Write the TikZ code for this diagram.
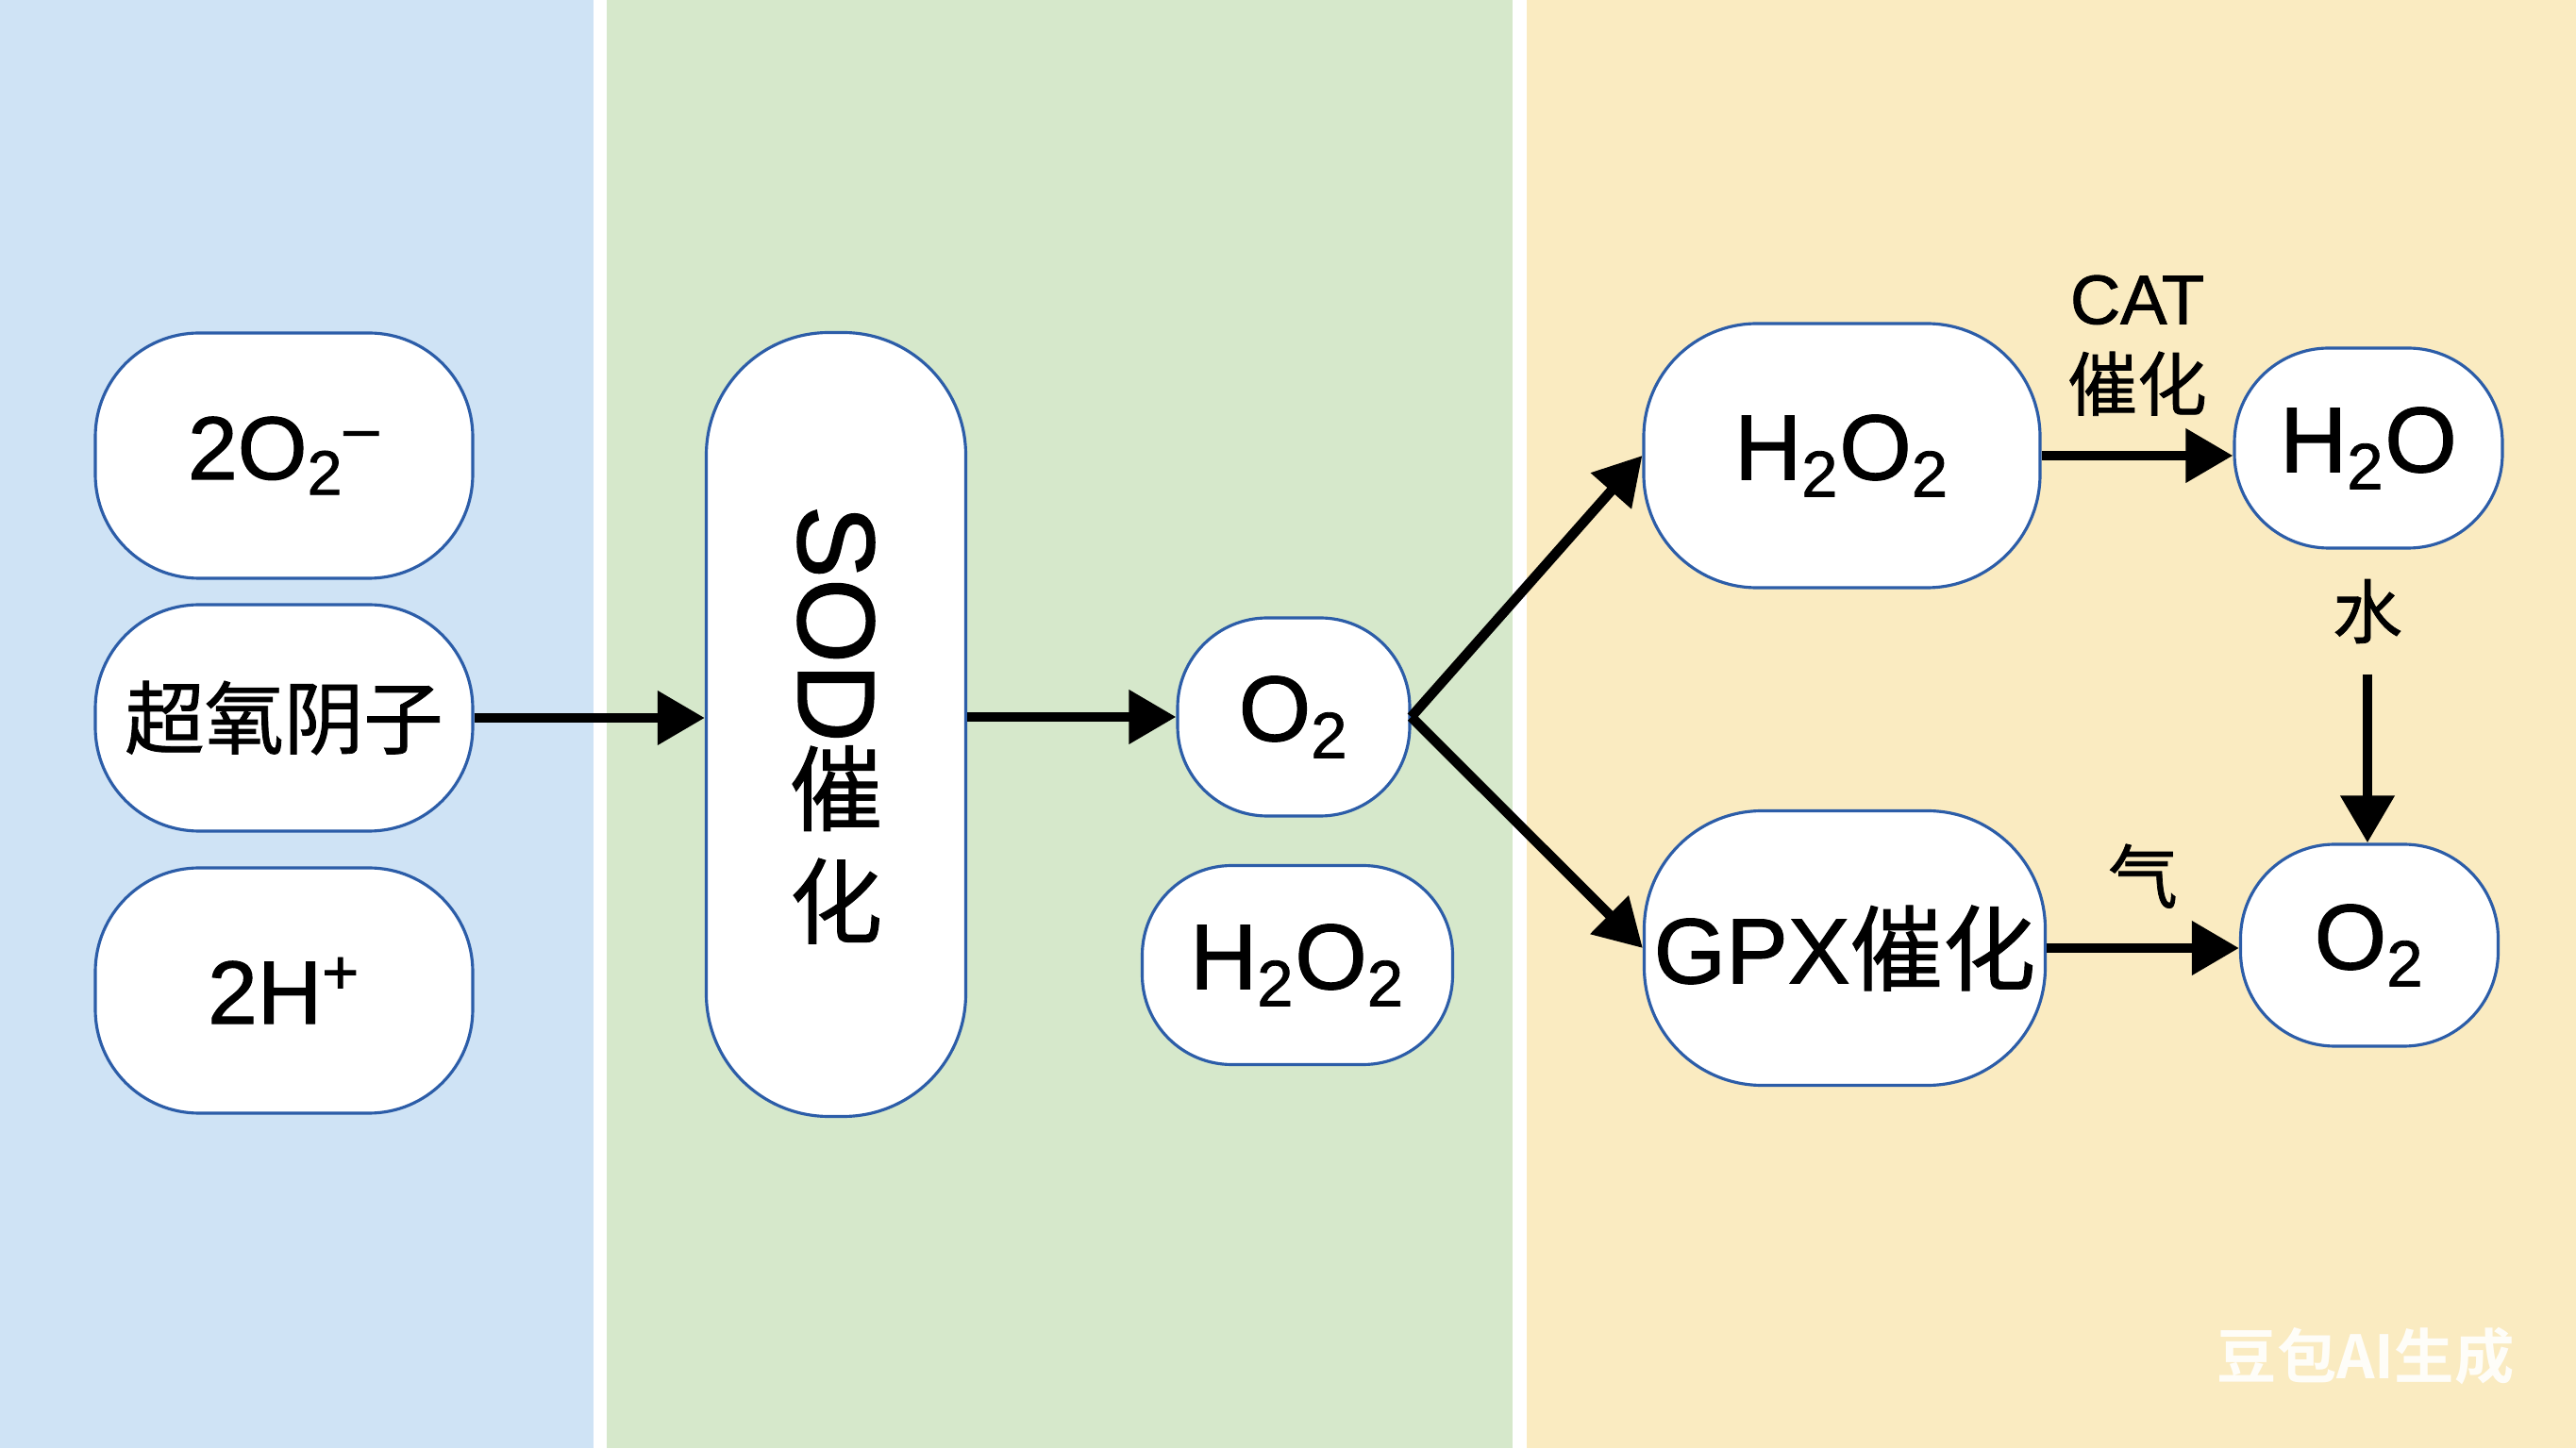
\documentclass[tikz,border=0pt]{standalone}
\usepackage{fontspec}
\usepackage{graphicx}
\usepackage{xcolor}
\usepackage{tikz}
\usetikzlibrary{arrows.meta}
\setmainfont{Liberation Sans}[FakeBold=1.2]
\newfontfamily\cjk{Noto Sans CJK SC}[FakeBold=1]
\newfontfamily\cjkbold{Noto Sans CJK SC Bold}
\definecolor{bluepanel}{HTML}{CFE3F5}
\definecolor{greenpanel}{HTML}{D6E8CB}
\definecolor{yellowpanel}{HTML}{FAEBC1}
\definecolor{nodeblue}{HTML}{2C5DA8}

\begin{document}
\begin{tikzpicture}[specnode/.style={draw=nodeblue, line width=0.9pt, fill=white, inner sep=0pt, align=center, font=\fontsize{28}{34}\selectfont},
    leftnode/.style={specnode, minimum width=4cm, rounded corners=1.1cm, font=\fontsize{27}{32}\selectfont},
    flow/.style={-{Triangle[length=5mm,width=5.5mm]}, line width=3pt},
    note/.style={font=\cjk\fontsize{21}{26}\selectfont, inner sep=2pt, align=center}]
    \useasboundingbox (0,0) rectangle (27.30,15.35);
    \fill[white] (0,0) rectangle (27.30,15.35);
    \fill[bluepanel] (0,0) rectangle (6.29,15.35);
    \fill[greenpanel] (6.43,0) rectangle (16.03,15.35);
    \fill[yellowpanel] (16.18,0) rectangle (27.30,15.35);

    \node[leftnode, minimum height=2.6cm] (sup) at (3.01,10.52) {2O\textsubscript{2}\textsuperscript{--}};
    \node[leftnode, minimum height=2.4cm] (anion) at (3.01,7.74) {{\cjk\fontsize{24}{29}\selectfont 超氧阴子}};
    \node[leftnode, minimum height=2.6cm] (hplus) at (3.01,4.85) {2H\textsuperscript{+}};
    \node[specnode, minimum width=2.75cm, minimum height=8.31cm, rounded corners=1.3cm] (sod) at (8.86,7.67)
        {\rotatebox[origin=c]{-90}{\fontsize{33}{40}\selectfont SOD}\\{\cjk 催}\\{\cjk 化}};
    \node[specnode, minimum width=2.46cm, minimum height=2.10cm, rounded corners=0.95cm] (oxa) at (13.71,7.75) {O\textsubscript{2}};
    \node[specnode, minimum width=3.29cm, minimum height=2.11cm, rounded corners=0.95cm] (pera) at (13.75,5.12) {H\textsubscript{2}O\textsubscript{2}};
    \node[specnode, minimum width=4.20cm, minimum height=2.80cm, rounded corners=1.2cm] (perb) at (19.52,10.52) {H\textsubscript{2}O\textsubscript{2}};
    \node[specnode, minimum width=4.25cm, minimum height=2.91cm, rounded corners=1.25cm] (gpx) at (19.55,5.30) {GPX{\cjk 催化}};
    \node[specnode, minimum width=2.84cm, minimum height=2.12cm, rounded corners=1cm] (water) at (25.10,10.60) {H\textsubscript{2}O};
    \node[specnode, minimum width=2.73cm, minimum height=2.14cm, rounded corners=1cm] (oxb) at (25.11,5.33) {O\textsubscript{2}};
    \node[note] (shui) at (25.09,8.87) {水};

    \draw[flow] (anion.east) -- (anion.east -| sod.west);
    \draw[flow] (oxa.west -| sod.east) -- (oxa.west);
    \draw[flow] (oxa.east) -- (perb.west);
    \draw[flow] (oxa.east) -- (gpx.west);
    \draw[flow] (perb.east) -- (perb.east -| water.west)
        node[midway, above=3mm, note] {{\rmfamily CAT}\\催化};
    \draw[flow] (gpx.east) -- (gpx.east -| oxb.west)
        node[midway, above=3mm, note] {气};
    \draw[flow, shorten <=2.5mm] (shui.south) -- (shui.south |- oxb.north);

    \node[font=\cjkbold\fontsize{18}{22}\selectfont, text=white, opacity=0.9] (mark) at (25.07,0.97) {豆包AI生成};
\end{tikzpicture}
\end{document}
